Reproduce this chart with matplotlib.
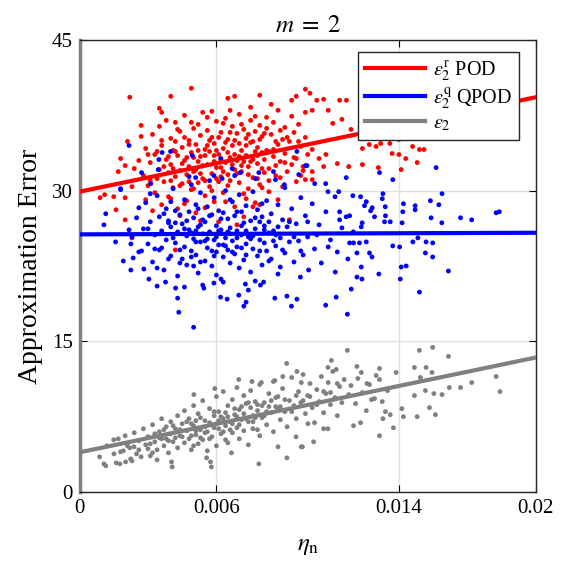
import numpy as np
import matplotlib
matplotlib.use("Agg")
import matplotlib.pyplot as plt

plt.rcParams['font.family'] = ['Liberation Serif', 'DejaVu Serif']
plt.rcParams['mathtext.fontset'] = 'stix'

red_x = [2.2, 4.9, 4.0, 7.9, 6.8, 6.5, 9.9, 9.5, 9.3, 3.5, 3.6, 2.7, 2.7, 2.1, 1.8, 2.0, 1.7, 2.3,
         1.1, 0.9, 1.5, 2.0, 1.6, 2.0, 2.3, 4.2, 9.2, 8.7, 7.6, 7.9,
         10.1, 10.4, 10.7, 11.4, 11.7, 10.9, 10.2, 11.1, 11.5, 11.9, 12.4, 12.7, 13.0, 13.2, 13.6,
         14.0, 14.6, 14.9, 15.1, 14.0, 13.7, 14.3, 14.8, 13.1, 14.1, 12.4, 11.8, 11.3, 10.7, 10.8,
         10.5, 10.2, 9.8, 10.2, 9.9, 10.2,
         2.6, 2.8, 2.9, 3.0, 3.1, 3.2, 3.3, 3.3, 3.4, 3.5, 3.5, 3.6, 3.6, 3.7, 3.8, 3.8, 3.9, 3.9,
         4.0, 4.0, 4.1, 4.1, 4.2, 4.2, 4.3, 4.3, 4.4, 4.4, 4.5, 4.5, 4.6, 4.6, 4.7, 4.7, 4.8, 4.8,
         4.9, 4.9, 5.0, 5.0, 5.1, 5.1, 5.2, 5.2, 5.3, 5.3, 5.4, 5.4, 5.5, 5.5, 5.6, 5.6, 5.7, 5.7,
         5.8, 5.8, 5.9, 5.9, 6.0, 6.0, 6.1, 6.1, 6.2, 6.2, 6.3, 6.3, 6.4, 6.4, 6.5, 6.5, 6.6, 6.6,
         6.7, 6.7, 6.8, 6.8, 6.9, 6.9, 7.0, 7.0, 7.1, 7.1, 7.2, 7.2, 7.3, 7.3, 7.4, 7.4, 7.5, 7.5,
         7.6, 7.6, 7.7, 7.7, 7.8, 7.8, 7.9, 7.9, 8.0, 8.0, 8.1, 8.2, 8.2, 8.3, 8.3, 8.4, 8.5, 8.5,
         8.6, 8.7, 8.7, 8.8, 8.9, 8.9, 9.0, 9.0, 9.1, 9.2, 9.3, 9.3, 9.4, 9.5, 9.5, 9.6, 9.7, 9.8,
         9.9, 9.9, 10.0,
         3.4, 3.7, 4.0, 4.2, 4.5, 4.6, 4.8, 5.0, 5.2, 5.4, 5.5, 5.7, 5.9, 6.0, 6.2, 6.3, 6.5, 6.7,
         6.8, 7.0, 7.1, 7.3, 7.4, 7.6, 7.8, 8.0, 8.1, 8.3, 8.6, 8.8, 4.9, 5.6, 6.6, 7.5, 8.4, 3.1,
         2.9, 3.2, 4.4, 5.3, 6.1, 7.2, 6.9,
         3.6, 3.9, 4.1, 4.3, 4.4, 4.7, 4.8, 5.0, 5.1, 5.2, 5.3, 5.5, 5.6, 5.8, 5.9, 6.0, 6.1, 6.2,
         6.4, 6.5, 6.6, 6.8, 6.9, 7.0, 7.1, 7.2, 7.4, 7.5, 7.7, 7.8, 7.9, 8.1, 8.2, 8.3, 8.5, 8.6,
         8.8, 9.0, 9.1, 9.4, 9.6, 9.7, 4.0, 4.6, 5.5, 6.4, 7.3, 8.0, 3.0, 2.4, 5.8, 6.3, 7.7, 4.2]
red_y = [39.3, 40.2, 39.4, 39.5, 39.4, 39.2, 40.1, 39.4, 39.0, 38.2, 37.8, 36.5, 35.4, 34.9, 33.2,
         32.5, 31.9, 30.4, 29.6, 29.3, 29.4, 29.3, 28.1, 27.1, 25.3, 24.1, 27.1, 29.1, 28.4, 28.6,
         39.7, 39.0, 39.1, 39.0, 39.0, 38.0, 38.0, 36.7, 37.1, 36.1, 34.2, 34.6, 34.4, 34.7, 34.7,
         35.1, 34.4, 34.1, 34.1, 33.6, 33.7, 33.2, 32.8, 32.3, 32.1, 32.6, 32.4, 32.7, 32.4, 33.6,
         33.2, 34.1, 32.4, 31.9, 31.1, 31.1,
         33.0, 31.5, 34.2, 30.5, 32.8, 35.6, 29.8, 33.6, 31.2, 36.4, 32.1, 28.6, 34.5, 30.9, 33.1,
         37.0, 31.8, 29.4, 35.2, 32.6, 30.3, 34.0, 36.8, 31.4, 33.5, 28.2, 32.0, 35.9, 30.7, 34.3,
         33.0, 37.5, 31.6, 29.0, 35.0, 32.4, 33.8, 30.1, 36.2, 31.9, 34.6, 27.8, 32.9, 30.8, 35.5,
         33.4, 31.2, 37.8, 34.1, 29.5, 32.6, 36.0, 30.4, 33.9, 35.3, 31.7, 28.9, 34.7, 32.3, 36.9,
         30.9, 33.6, 35.8, 31.4, 34.2, 29.8, 37.2, 32.8, 30.5, 35.1, 33.3, 31.0, 36.4, 34.5, 32.1,
         28.4, 35.7, 33.0, 30.8, 37.6, 34.0, 31.9, 36.1, 29.7, 33.5, 35.2, 32.4, 30.2, 34.8, 37.0,
         33.1, 31.3, 35.9, 28.8, 34.3, 32.7, 36.5, 30.6, 33.8, 35.4, 31.8, 37.3, 34.0, 32.2, 29.9,
         35.6, 33.4, 36.8, 31.5, 34.6, 38.0, 32.9, 35.1, 30.4, 36.3, 33.7, 31.9, 34.9, 37.4, 32.6,
         35.8, 33.2, 30.9, 36.6, 34.4, 32.0, 35.3, 37.8, 33.6,
         33.9, 32.4, 31.0, 33.9, 32.7, 35.3, 30.9, 33.3, 34.0, 32.5, 31.0, 35.0, 32.9, 34.0, 33.1,
         31.9, 33.8, 32.6, 35.0, 33.4, 32.5, 34.5, 31.6, 34.9, 33.5, 32.2, 35.7, 33.9, 34.9, 31.3,
         36.8, 37.3, 38.0, 38.3, 38.6, 31.0, 29.1, 28.0, 27.5, 27.0, 26.9, 27.4, 26.6,
         35.0, 33.4, 32.2, 36.1, 30.5, 33.3, 34.6, 30.2, 32.1, 36.6, 31.7, 33.5, 34.5, 30.0, 33.5,
         31.2, 35.3, 32.3, 34.8, 31.6, 35.8, 33.6, 31.7, 34.7, 36.6, 32.9, 35.6, 32.9, 33.9, 31.2,
         35.1, 33.1, 36.2, 31.0, 34.1, 32.5, 36.0, 32.8, 35.3, 33.3, 34.9, 31.5, 29.2, 28.7, 28.3,
         28.9, 29.2, 30.3, 33.6, 32.2, 37.9, 36.7, 37.4, 34.9]

blue_x = [5.0, 4.35, 4.3, 18.4, 18.26, 17.19, 16.7, 15.89, 15.75, 15.38, 15.41, 15.88, 16.17, 15.48,
          15.16, 15.48, 15.19, 14.83, 14.61, 14.9, 14.32, 14.1, 14.06, 14.03, 13.73, 14.14, 14.17,
          14.2, 14.71, 14.71, 13.4, 13.3, 13.27, 13.37, 13.62, 12.93, 13.41, 12.82, 13.12, 12.71,
          12.38, 12.16, 12.35, 11.74, 11.91, 11.25, 10.79, 11.21, 11.76, 11.98, 12.32, 12.57, 12.83,
          12.76, 12.49, 11.84, 11.69, 11.4, 12.39, 12.35, 11.84, 12.01, 12.27, 12.57, 12.16, 11.36,
          10.89,
          1.15, 1.07, 1.58, 1.92, 2.25, 2.35, 2.72, 2.17, 2.25, 1.8, 2.17, 3.62, 3.99, 3.48, 4.94,
          6.19, 2.72, 3.45, 3.12, 1.8, 6.69, 7.05, 6.25, 5.89, 5.09, 7.86, 7.71, 8.59, 9.53, 9.97,
          9.61, 8.98, 15.63, 13.15, 13.73, 11.69, 9.91, 10.31, 10.79,
          2.82, 3.04, 3.4, 3.77, 4.21, 5.45, 5.89, 6.18, 6.47, 6.98, 7.27, 7.2, 7.3, 7.93, 8.07, 8.56,
          9.09, 9.53, 9.29, 9.68, 10.04,
          2.3, 2.5, 2.6, 2.8, 2.9, 3.0, 3.1, 3.2, 3.3, 3.4, 3.5, 3.5, 3.6, 3.7, 3.8, 3.8, 3.9, 4.0,
          4.0, 4.1, 4.2, 4.2, 4.3, 4.3, 4.4, 4.5, 4.5, 4.6, 4.6, 4.7, 4.7, 4.8, 4.8, 4.9, 4.9, 5.0,
          5.0, 5.1, 5.1, 5.2, 5.2, 5.3, 5.3, 5.4, 5.4, 5.5, 5.5, 5.6, 5.6, 5.7, 5.7, 5.8, 5.8, 5.9,
          5.9, 6.0, 6.0, 6.1, 6.1, 6.2, 6.2, 6.3, 6.3, 6.4, 6.4, 6.5, 6.5, 6.6, 6.6, 6.7, 6.7, 6.8,
          6.8, 6.9, 6.9, 7.0, 7.0, 7.1, 7.1, 7.2, 7.2, 7.3, 7.3, 7.4, 7.5, 7.5, 7.6, 7.6, 7.7, 7.8,
          7.8, 7.9, 8.0, 8.0, 8.1, 8.2, 8.2, 8.3, 8.4, 8.4, 8.5, 8.6, 8.7, 8.7, 8.8, 8.9, 9.0, 9.0,
          9.1, 9.2, 9.3, 9.4, 9.5, 9.6, 9.7, 9.8, 9.9, 10.0, 10.2, 10.3, 10.5, 10.6, 10.8, 11.0,
          11.2, 11.3, 11.5,
          4.1, 4.4, 4.6, 4.9, 5.1, 5.3, 5.6, 5.8, 6.0, 6.2, 6.4, 6.6, 6.9, 7.1, 7.3, 7.6, 7.9, 8.1,
          8.3, 8.6, 3.6, 3.9, 5.0, 5.4, 6.3, 7.7, 4.8, 6.8, 8.5, 3.1, 2.6,
          3.0, 3.3, 3.7, 3.9, 4.2, 4.4, 4.7, 4.9, 5.1, 5.3, 5.5, 5.7, 5.9, 6.1, 6.3, 6.5, 6.7, 6.9,
          7.1, 7.3, 7.5, 7.7, 7.9, 8.1, 8.3, 8.5, 8.7, 8.9, 9.2, 9.4, 9.7, 10.0, 10.4, 10.9, 11.4,
          12.0, 3.4, 4.6, 6.0, 7.4, 8.8, 5.2, 6.6, 8.0, 4.0]
blue_y = [16.4, 17.9, 19.3, 27.9, 27.8, 27.1, 27.3, 29.7, 28.6, 29.0, 27.3, 26.8, 22.0, 23.4, 23.8,
          24.8, 24.9, 25.3, 24.9, 19.9, 22.5, 22.4, 21.2, 24.4, 24.5, 26.8, 27.9, 28.7, 28.5, 28.1,
          28.4, 29.7, 29.2, 26.9, 26.9, 27.4, 27.5, 23.4, 21.7, 23.8, 21.2, 21.4, 22.4, 17.7, 20.2,
          19.4, 18.6, 21.9, 23.2, 29.5, 29.4, 28.9, 28.3, 28.0, 28.5, 27.5, 27.4, 27.9, 26.8, 26.4,
          24.8, 24.8, 24.8, 24.9, 23.8, 29.9, 29.9,
          27.7, 26.6, 24.9, 23.0, 22.1, 23.3, 24.0, 26.1, 24.7, 30.1, 34.5, 33.8, 33.9, 33.1, 33.5,
          33.2, 31.8, 32.1, 30.7, 30.2, 32.2, 31.8, 31.2, 31.5, 31.3, 31.8, 31.2, 31.1, 33.9, 32.5,
          31.6, 30.6, 32.3, 31.8, 31.1, 31.3, 32.5, 30.7, 30.7,
          22.2, 21.2, 20.5, 20.9, 20.3, 20.3, 20.8, 19.4, 19.2, 19.6, 20.7, 18.5, 18.9, 20.6, 20.9,
          19.3, 19.5, 19.2, 18.5, 21.4, 22.1,
          25.4, 27.3, 23.9, 26.2, 28.8, 24.7, 26.9, 22.9, 25.6, 29.5, 27.4, 24.1, 26.0, 22.1, 28.2,
          25.1, 27.0, 23.5, 26.4, 30.2, 24.8, 28.0, 21.5, 25.9, 27.6, 23.2, 26.7, 29.1, 24.4, 25.5,
          22.6, 27.9, 26.1, 24.0, 30.6, 25.2, 27.3, 23.6, 28.6, 26.4, 21.8, 24.9, 29.8, 27.1, 25.7,
          23.0, 26.9, 28.4, 24.3, 25.9, 31.0, 22.5, 27.6, 25.1, 29.3, 23.9, 26.5, 28.0, 24.6, 21.2,
          26.1, 27.8, 23.4, 25.3, 30.0, 24.1, 27.2, 22.8, 26.3, 28.9, 25.0, 23.7, 27.5, 26.0, 24.4,
          29.6, 22.3, 25.6, 27.9, 23.1, 26.8, 24.7, 28.5, 25.4, 21.9, 27.0, 24.2, 29.9, 26.2, 23.5,
          28.1, 25.1, 27.4, 22.6, 26.5, 24.0, 29.0, 25.8, 23.2, 27.7, 26.0, 24.5, 28.6, 21.7, 25.3,
          27.1, 23.8, 30.3, 26.4, 24.9, 28.2, 22.9, 26.7, 25.0, 29.3, 23.6, 27.5, 25.4, 28.7, 24.2,
          26.6, 22.8, 27.9, 25.1, 29.4, 23.9, 26.3,
          25.3, 24.1, 26.2, 25.8, 24.9, 26.6, 25.2, 24.0, 25.4, 27.2, 24.5, 25.7, 25.3, 24.3, 26.0,
          25.5, 26.9, 24.8, 26.9, 25.6, 24.3, 26.8, 22.5, 20.6, 20.9, 21.0, 31.4, 31.5, 31.9, 29.7,
          28.3,
          26.2, 24.2, 27.7, 23.2, 26.8, 22.8, 27.0, 23.4, 26.0, 22.9, 25.0, 27.5, 23.5, 26.0, 24.6,
          25.9, 23.9, 27.9, 26.5, 23.6, 25.2, 27.3, 24.0, 26.1, 23.0, 25.0, 26.4, 24.1, 26.9, 25.4,
          24.0, 26.9, 25.6, 24.4, 27.1, 25.9, 22.3, 20.4, 21.6, 20.1, 22.4, 28.2, 29.1, 28.7, 28.9]

gray_x = [0.88, 1.07, 1.15, 1.51, 1.7, 1.61, 1.77, 2.02, 2.24, 1.92, 2.39, 4.06, 4.03, 5.78, 5.74,
          5.57, 6.66, 7.86, 9.09, 8.7, 9.72, 9.49, 5.01, 5.93, 6.98, 7.56, 7.97, 8.56, 8.91, 9.08,
          9.53, 9.72,
          11.74, 14.9, 15.48, 16.17, 18.26, 18.43, 17.19, 16.7, 16.21, 15.89, 15.53, 15.16, 15.34,
          15.6, 14.8, 14.68, 14.2, 14.13, 13.76, 13.15, 13.3, 13.62, 14.68, 15.19, 14.94, 15.45,
          13.88, 13.15, 13.15, 12.16, 11.04, 10.89, 11.25, 12.35, 12.71, 12.01, 12.32, 10.7, 10.89,
          10.26, 9.77, 10.01, 12.57, 13.41, 12.93, 13.27,
          1.2, 1.5, 1.8, 2.0, 2.2, 2.4, 2.5, 2.6, 2.8, 2.9, 3.0, 3.1, 3.2, 3.3, 3.4, 3.5, 3.6, 3.6,
          3.7, 3.8, 3.9, 4.0, 4.0, 4.1, 4.2, 4.3, 4.3, 4.4, 4.5, 4.6, 4.6, 4.7, 4.8, 4.8, 4.9, 5.0,
          5.0, 5.1, 5.2, 5.2, 5.3, 5.4, 5.4, 5.5, 5.6, 5.6, 5.7, 5.8, 5.8, 5.9, 6.0, 6.0, 6.1, 6.1,
          6.2, 6.3, 6.3, 6.4, 6.5, 6.5, 6.6, 6.7, 6.7, 6.8, 6.9, 6.9, 7.0, 7.0, 7.1, 7.2, 7.2, 7.3,
          7.4, 7.4, 7.5, 7.6, 7.6, 7.7, 7.8, 7.9, 7.9, 8.0, 8.1, 8.2, 8.3, 8.4, 8.5, 8.5, 8.6, 8.7,
          8.8, 8.9, 9.0, 9.1, 9.2, 9.3, 9.4, 9.5, 9.6, 9.7, 9.8, 9.9, 10.0, 10.1, 10.2, 10.3, 10.4,
          10.5, 10.6, 10.7, 10.8, 10.9, 11.0, 11.1, 11.2, 11.3, 11.4, 11.5, 11.6, 11.8, 11.9, 12.1,
          12.2, 12.4, 12.6, 12.8, 13.0, 13.5,
          4.4, 4.9, 5.1, 5.3, 5.5, 5.7, 5.9, 6.1, 6.3, 6.5, 6.7, 6.9, 7.1, 7.3, 7.5, 7.7, 8.0, 8.2,
          8.4, 8.7, 3.0, 3.3, 3.8, 4.1, 2.3, 2.7, 3.4,
          3.1, 3.5, 3.7, 3.9, 4.2, 4.5, 4.7, 4.9, 5.1, 5.3, 5.5, 5.7, 5.9, 6.0, 6.2, 6.4, 6.6, 6.8,
          7.0, 7.2, 7.4, 7.6, 7.8, 8.1, 8.3, 8.6, 8.8, 9.0, 9.3, 9.5, 9.8, 10.1, 10.4, 10.7, 11.0,
          11.3, 2.1, 2.6, 3.2, 5.0, 6.4, 7.8]
gray_y = [3.5, 2.8, 2.6, 3.8, 5.3, 2.9, 2.8, 3.0, 3.3, 4.1, 4.5, 2.5, 3.0, 2.5, 3.0, 3.4, 3.9, 2.8,
          3.4, 4.5, 4.5, 5.5, 9.7, 10.3, 11.2, 11.0, 10.9, 11.1, 11.5, 12.8, 12.0, 10.9,
          14.1, 14.1, 14.4, 13.5, 11.5, 10.0, 10.9, 10.4, 10.4, 9.7, 9.8, 10.1, 8.4, 7.7, 7.5, 9.6,
          7.5, 8.3, 6.4, 5.6, 7.3, 7.7, 12.4, 12.4, 11.4, 11.9, 11.9, 12.3, 11.2, 12.5, 13.1, 12.4,
          12.2, 11.9, 10.7, 6.6, 6.9, 6.3, 6.3, 5.0, 4.5, 6.8, 8.1, 8.0, 9.3, 9.0,
          4.6, 5.2, 4.0, 5.6, 4.4, 5.9, 3.8, 5.1, 6.3, 4.7, 5.5, 3.6, 6.7, 5.0, 4.2, 6.0, 7.3, 5.3,
          4.6, 6.5, 3.9, 5.8, 7.0, 5.0, 6.3, 4.4, 7.6, 5.6, 6.8, 4.9, 8.1, 6.1, 5.3, 7.3, 4.2, 6.6,
          8.6, 5.7, 7.8, 4.8, 6.2, 9.1, 5.2, 7.1, 6.0, 4.1, 8.3, 6.7, 5.5, 7.6, 9.5, 4.6, 6.3, 8.0,
          5.8, 7.3, 10.0, 6.6, 4.9, 8.6, 7.0, 5.9, 9.2, 7.7, 6.4, 10.4, 5.3, 8.2, 7.2, 9.6, 6.1, 8.8,
          7.0, 4.7, 10.1, 7.6, 6.3, 9.0, 8.1, 5.6, 10.7, 7.4, 8.9, 6.7, 9.8, 7.9, 11.0, 6.0, 8.5,
          9.5, 7.2, 10.3, 8.0, 6.5, 9.1, 11.4, 8.6, 7.3, 10.0, 8.9, 11.7, 7.8, 9.6, 10.8, 8.4, 6.9,
          10.2, 9.0, 11.5, 7.9, 9.8, 10.9, 8.7, 12.0, 9.4, 7.6, 10.5, 8.9, 11.2, 9.7, 10.6, 8.8,
          11.3, 9.9, 10.8, 9.2, 11.6, 10.1,
          6.2, 6.8, 6.1, 7.4, 5.9, 6.9, 6.4, 7.1, 6.0, 7.5, 6.8, 7.5, 8.5, 7.3, 8.4, 7.4, 8.6, 8.0,
          9.1, 8.2, 4.3, 5.8, 5.3, 6.6, 3.1, 3.5, 3.2,
          4.8, 5.4, 6.2, 5.1, 5.4, 5.5, 7.0, 5.6, 7.1, 5.4, 6.5, 5.3, 8.0, 6.8, 7.5, 7.9, 6.2, 8.3,
          6.7, 7.8, 8.9, 7.0, 8.7, 7.6, 8.5, 9.4, 8.5, 9.2, 8.0, 9.6, 9.1, 9.5, 8.7, 10.0, 9.9,
          10.8, 4.6, 4.2, 3.9, 4.6, 5.2, 6.2]

# fitted lines: (intercept, slope per unit eta_n)
red_fit = [29.9, 470]
blue_fit = [25.65, 8]
gray_fit = [3.95, 472]

series = [
    (red_x, red_y, red_fit, 'red', r'$\epsilon_2^{\rm r}$ POD'),
    (blue_x, blue_y, blue_fit, 'blue', r'$\epsilon_2^{\rm q}$ QPOD'),
    (gray_x, gray_y, gray_fit, 'gray', r'$\epsilon_2$'),
]

fig = plt.figure(figsize=(5.64, 5.69), dpi=100)
ax = fig.add_axes([0.141, 0.1353, 0.809, 0.7944])

x_line = np.array([0, 0.02])
for xs, ys, fit, c, lab in series:
    ax.scatter(np.array(xs) * 1e-3, ys, s=12, color=c, edgecolors='none', zorder=2)
for xs, ys, fit, c, lab in series:
    ax.plot(x_line, fit[0] + fit[1] * x_line, color=c, lw=3, label=lab, zorder=3)

ax.set_xlim(0, 0.02)
ax.set_ylim(0, 45)
ax.set_xticks([0, 0.006, 0.014, 0.02])
ax.set_xticklabels(['0', '0.006', '0.014', '0.02'])
ax.set_yticks([0, 15, 30, 45])
ax.grid(True, color='0.88', lw=1)
ax.set_axisbelow(True)
ax.tick_params(direction='in', top=True, right=True, labelsize=15, length=5, pad=5)
for sp in ax.spines.values():
    sp.set_linewidth(1)
    sp.set_color('0.15')
ax.spines['left'].set_color('0.5')
ax.spines['left'].set_linewidth(2.5)

ax.set_xlabel(r'$\eta_{\rm n}$', fontsize=18, labelpad=12)
ax.set_ylabel('Approximation Error', fontsize=20, labelpad=6)
ax.set_title(r'$m\;=\;2$', fontsize=18, pad=6)

leg = ax.legend(loc='upper right', fontsize=14.5, handlelength=3.0, fancybox=False,
                framealpha=1, edgecolor='0.15', borderaxespad=0, labelspacing=0.12,
                borderpad=0.35, handletextpad=0.4, bbox_to_anchor=(0.964, 0.973))
leg.get_frame().set_linewidth(1)

plt.savefig('out.png', dpi=100)
plt.close()
